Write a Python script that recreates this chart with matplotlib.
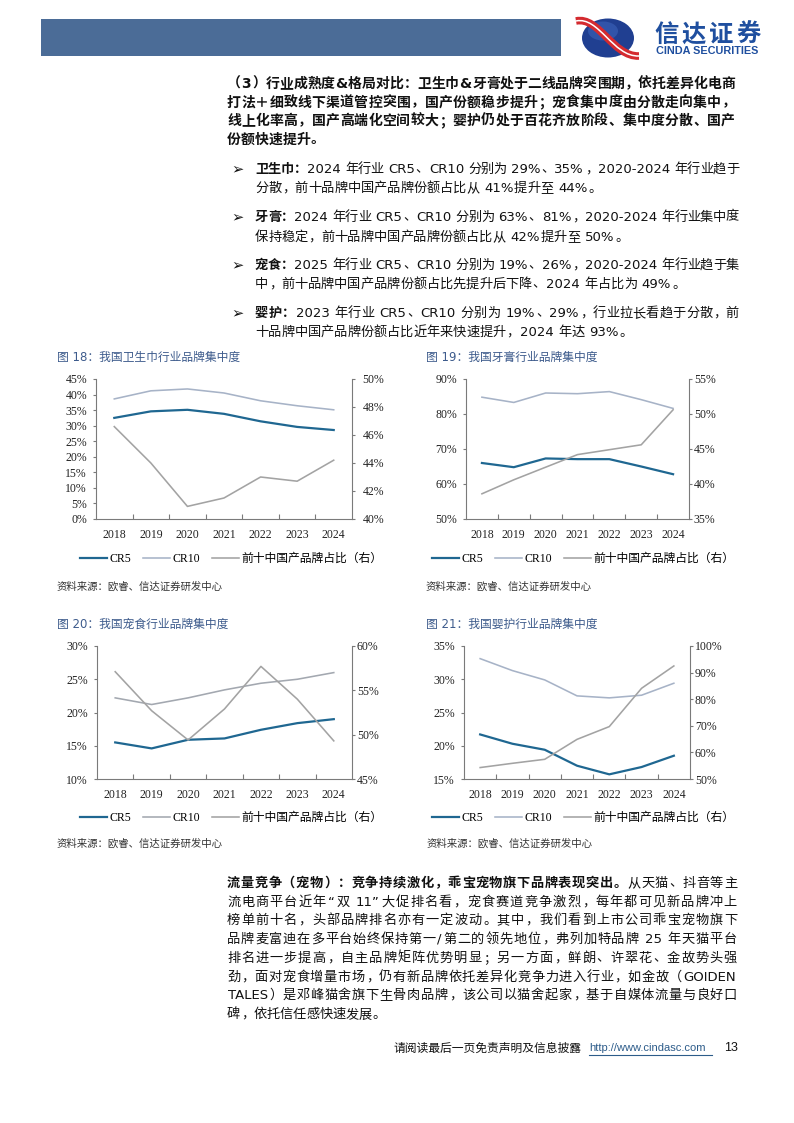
import numpy as np
import matplotlib
matplotlib.use('Agg')
import matplotlib.pyplot as plt
from matplotlib.lines import Line2D
from matplotlib.patches import Rectangle, Ellipse, PathPatch
from matplotlib.path import Path
from matplotlib.font_manager import FontProperties

W, H = 794, 1123
CJK = 'Noto Sans CJK SC'
LAT = 'DejaVu Sans'
SERIF = 'Liberation Serif'

years = ['2018', '2019', '2020', '2021', '2022', '2023', '2024']

# 卫生巾 (%)
pad_cr5 = [32.5, 34.6, 35.1, 33.8, 31.4, 29.6, 28.6]
pad_cr10 = [38.6, 41.2, 41.8, 40.5, 38.0, 36.4, 35.1]
pad_cn = [46.6, 44.0, 40.9, 41.5, 43.0, 42.7, 44.2]
# 牙膏
paste_cr5 = [66.0, 64.8, 67.3, 67.1, 67.1, 65.0, 62.8]
paste_cr10 = [84.8, 83.3, 86.0, 85.8, 86.4, 84.1, 81.6]
paste_cn = [38.6, 40.6, 42.4, 44.2, 44.9, 45.6, 50.6]
# 宠食
pet_cr5 = [15.5, 14.6, 15.9, 16.1, 17.4, 18.4, 19.0]
pet_cr10 = [22.2, 21.2, 22.2, 23.4, 24.4, 25.0, 26.0]
pet_cn = [57.1, 52.7, 49.4, 52.9, 57.7, 54.0, 49.3]
# 婴护
baby_cr5 = [21.7, 20.3, 19.4, 17.0, 15.7, 16.8, 18.5]
baby_cr10 = [33.1, 31.3, 29.9, 27.5, 27.2, 27.6, 29.4]
baby_cn = [54.3, 55.9, 57.4, 64.9, 69.7, 84.1, 92.5]

legend_labels = ['CR5', 'CR10', '前十中国产品牌占比（右）']
source_note = '资料来源：欧睿、信达证券研发中心'

intro_lines = [
    '（3）行业成熟度&格局对比：卫生巾&牙膏处于二线品牌突围期，依托差异化电商',
    '打法＋细致线下渠道管控突围，国产份额稳步提升；宠食集中度由分散走向集中，',
    '线上化率高，国产高端化空间较大；婴护仍处于百花齐放阶段、集中度分散、国产',
    '份额快速提升。',
]
bullets = [
    ('卫生巾：', '2024 年行业 CR5、CR10 分别为 29%、35%，2020-2024 年行业趋于',
     '分散，前十品牌中国产品牌份额占比从 41%提升至 44%。'),
    ('牙膏：', '2024 年行业 CR5、CR10 分别为 63%、81%，2020-2024 年行业集中度',
     '保持稳定，前十品牌中国产品牌份额占比从 42%提升至 50%。'),
    ('宠食：', '2025 年行业 CR5、CR10 分别为 19%、26%，2020-2024 年行业趋于集',
     '中，前十品牌中国产品牌份额占比先提升后下降、2024 年占比为 49%。'),
    ('婴护：', '2023 年行业 CR5、CR10 分别为 19%、29%，行业拉长看趋于分散，前',
     '十品牌中国产品牌份额占比近年来快速提升，2024 年达 93%。'),
]
para_bold = '流量竞争（宠物）：竞争持续激化，乖宝宠物旗下品牌表现突出。'
para_lines = [
    '从天猫、抖音等主',
    '流电商平台近年“双 11”大促排名看，宠食赛道竞争激烈，每年都可见新品牌冲上',
    '榜单前十名，头部品牌排名亦有一定波动。其中，我们看到上市公司乖宝宠物旗下',
    '品牌麦富迪在多平台始终保持第一/第二的领先地位，弗列加特品牌 25 年天猫平台',
    '排名进一步提高，自主品牌矩阵优势明显；另一方面，鲜朗、许翠花、金故势头强',
    '劲，面对宠食增量市场，仍有新品牌依托差异化竞争力进入行业，如金故（GOIDEN',
    'TALES）是邓峰猫舍旗下生骨肉品牌，该公司以猫舍起家，基于自媒体流量与良好口',
    '碑，依托信任感快速发展。',
]

C5 = '#1f6791'
CN = '#a3a3a3'
SPINE = '#7a7a7a'
TXT = '#111111'
BLUE_T = '#3d5b8c'

fig = plt.figure(figsize=(W / 100, H / 100), dpi=100)
page = fig.add_axes([0, 0, 1, 1])
page.set_xlim(0, W)
page.set_ylim(H, 0)
page.axis('off')
renderer = fig.canvas.get_renderer()


def text_width(s, size, weight):
    t = page.text(0, 0, s, fontsize=size, fontweight=weight, family=LAT)
    w = t.get_window_extent(renderer).width
    t.remove()
    return w


def split_tokens(pieces):
    toks = []
    for s, weight in pieces:
        buf = ''
        for ch in s:
            if ord(ch) > 0x2E7F or ch == ' ':
                if buf:
                    toks.append(('lat', buf, weight))
                    buf = ''
                toks.append(('sp' if ch == ' ' else 'cjk', ch, weight))
            else:
                buf += ch
        if buf:
            toks.append(('lat', buf, weight))
    return toks


def text_line(x, yc, pieces, size, right=None):
    # one justified line of mixed CJK / latin text
    em = size * 100 / 72
    toks = split_tokens(pieces)
    widths = []
    for kind, s, weight in toks:
        if kind == 'cjk':
            widths.append(em)
        elif kind == 'sp':
            widths.append(0.3 * em)
        else:
            widths.append(text_width(s, size, weight) + 0.1 * em)
    extra = 0
    if right is not None and len(toks) > 1:
        extra = (right - x - sum(widths)) / (len(toks) - 1)
    yb = yc + 0.36 * em
    cx = x
    for (kind, s, weight), w in zip(toks, widths):
        kw = dict(va='baseline', fontsize=size, fontweight=weight, color=TXT)
        if kind == 'cjk':
            if s in '，。、：；）':
                page.text(cx + 0.04 * em, yb, s, ha='left', family=CJK, **kw)
            elif s in '（':
                page.text(cx + 0.96 * em, yb, s, ha='right', family=CJK, **kw)
            else:
                page.text(cx + w / 2, yb, s, ha='center', family=CJK, **kw)
        elif kind == 'lat':
            page.text(cx + 0.05 * em, yb, s, ha='left', family=LAT, **kw)
        cx += w + extra


# header
page.add_patch(Rectangle((41, 19), 520, 37, color='#4b6c97', lw=0))
page.add_patch(Ellipse((608, 38), 52, 39, color='#203f91', lw=0))
page.add_patch(Ellipse((603, 31), 30, 19, color='#3f67bd', lw=0, alpha=0.55))
swoosh = Path([(576, 21), (599, 16), (613, 57), (639, 56)],
              [Path.MOVETO, Path.CURVE4, Path.CURVE4, Path.CURVE4])
page.add_patch(PathPatch(swoosh, fc='none', ec='#d42a2f', lw=5.5))
page.add_patch(PathPatch(swoosh, fc='none', ec='white', lw=1.1))
for i, ch in enumerate('信达证券'):
    page.text(666.6 + 27.25 * i, 35, ch, ha='center', va='center', fontsize=17.5,
              fontweight='bold', family=CJK, color='#1f4f9f')
page.text(707.5, 50.5, 'CINDA SECURITIES', ha='center', va='center', fontsize=7.8,
          fontweight='bold', family='Liberation Sans', color='#1f4f9f')

# intro paragraph
intro_y = [83, 101.5, 120, 138.5]
for i, (line, y) in enumerate(zip(intro_lines, intro_y)):
    text_line(227, y, [(line, 'bold')], 10, right=735 if i < 3 else None)

# bullets
bullet_y = [(168, 187), (216, 236), (264, 283), (312, 331)]
for (head, l1, l2), (y1, y2) in zip(bullets, bullet_y):
    page.text(231, y1 + 5, '➢', family=LAT, fontsize=10.5, va='baseline', ha='left', color=TXT)
    text_line(255, y1, [(head, 'bold'), (l1, 'normal')], 9.5, right=739)
    text_line(255, y2, [(l2, 'normal')], 9.5)

# bottom paragraph
para_y = [882, 901, 919, 938, 957, 976, 994, 1013]
for i, (line, y) in enumerate(zip(para_lines, para_y)):
    pieces = [(para_bold, 'bold'), (line, 'normal')] if i == 0 else [(line, 'normal')]
    text_line(227, y, pieces, 9.5, right=737 if i < 7 else None)

# footer
page.text(394, 1048, '请阅读最后一页免责声明及信息披露', family=CJK, fontsize=8.5,
          va='center', ha='left', color=TXT)
page.text(589, 1048, 'http://www.cindasc.com', family='Liberation Sans', fontsize=8,
          va='center', ha='left', color='#2d5c8a')
page.plot([589, 712], [1055, 1055], color='#2d5c8a', lw=0.8)
page.text(724, 1048, '13', family='Liberation Sans', fontsize=9, va='center', ha='left', color=TXT)


def draw_chart(rect, cr5, cr10, cn, lticks, rticks, rpad, c10, title, tpos, spos, lpos):
    l, t, r, b = rect
    ax = fig.add_axes([l / W, 1 - b / H, (r - l) / W, (b - t) / H])
    x = np.arange(len(years))
    ax.plot(x, cr10, color=c10, lw=1.15)
    ax.plot(x, cr5, color=C5, lw=1.6, zorder=3)
    ax.set_xlim(-0.5, len(years) - 0.5)
    ax.set_ylim(lticks[0], lticks[-1])
    ax.set_yticks(lticks)
    ax.set_yticklabels([f'{v}%' for v in lticks])
    ax.set_xticks(x)
    ax.set_xticklabels(years)
    ax.set_xticks(x[:-1] + 0.5, minor=True)
    ax.tick_params(axis='x', which='major', length=0, pad=7, labelsize=8.5,
                   labelfontfamily=SERIF, labelcolor='#222222')
    ax.tick_params(axis='x', which='minor', direction='in', length=3.5, width=0.8, color=SPINE)
    ax.tick_params(axis='y', direction='out', length=2.5, width=0.8, color=SPINE, pad=4,
                   labelsize=8.5, labelfontfamily=SERIF, labelcolor='#222222')
    for s in ['top', 'right']:
        ax.spines[s].set_visible(False)
    for s in ['left', 'bottom']:
        ax.spines[s].set_color(SPINE)
        ax.spines[s].set_linewidth(0.8)

    ax2 = ax.twinx()
    ax2.plot(x, cn, color=CN, lw=1.15)
    ax2.set_ylim(rticks[0], rticks[-1])
    ax2.set_yticks(rticks)
    ax2.set_yticklabels([f'{v}%' for v in rticks])
    ax2.tick_params(axis='y', direction='out', length=2.5, width=0.8, color=SPINE, pad=rpad,
                    labelsize=8.5, labelfontfamily=SERIF, labelcolor='#222222')
    for s in ['top', 'left', 'bottom']:
        ax2.spines[s].set_visible(False)
    ax2.spines['right'].set_color(SPINE)
    ax2.spines['right'].set_linewidth(0.8)

    page.text(tpos[0], tpos[1], title, family=[LAT, CJK], fontsize=8.5, color=BLUE_T,
              va='center', ha='left')
    page.text(spos[0], spos[1], source_note, family=CJK, fontsize=7.5, color='#333333',
              va='center', ha='left', style='italic')
    handles = [Line2D([], [], color=C5, lw=1.6), Line2D([], [], color=c10, lw=1.15),
               Line2D([], [], color=CN, lw=1.15)]
    fig.legend(handles, legend_labels, loc='center left',
               bbox_to_anchor=(lpos[0] / W, 1 - lpos[1] / H), ncol=3, frameon=False,
               prop=FontProperties(family=[SERIF, CJK], size=8.5), handlelength=2.3,
               handletextpad=0.2, columnspacing=1.0, borderpad=0, borderaxespad=0)


draw_chart((96, 379, 352, 519), pad_cr5, pad_cr10, pad_cn,
           list(range(0, 50, 5)), list(range(40, 52, 2)), 5.0, '#a7b3c7',
           '图 18：我国卫生巾行业品牌集中度', (57, 357), (57, 587), (80, 559))
draw_chart((466, 379, 689, 519), paste_cr5, paste_cr10, paste_cn,
           list(range(50, 100, 10)), list(range(35, 60, 5)), 1.0, '#a7b3c7',
           '图 19：我国牙膏行业品牌集中度', (426, 357), (426, 587), (432, 559))
draw_chart((97, 646, 352, 779), pet_cr5, pet_cr10, pet_cn,
           list(range(10, 35, 5)), list(range(45, 65, 5)), 1.0, '#a3a8b0',
           '图 20：我国宠食行业品牌集中度', (57, 624), (57, 844), (80, 818))
draw_chart((464, 646, 690, 779), baby_cr5, baby_cr10, baby_cn,
           list(range(15, 40, 5)), list(range(50, 110, 10)), 1.0, '#a7b3c7',
           '图 21：我国婴护行业品牌集中度', (426, 624), (427, 844), (432, 818))

fig.savefig('out.png', dpi=100)
